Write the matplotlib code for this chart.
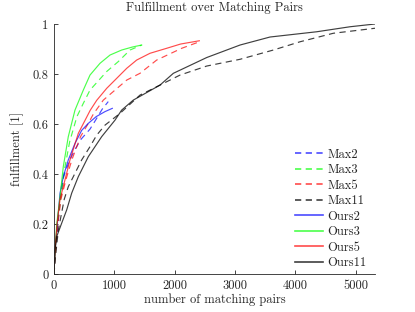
import matplotlib
matplotlib.use("Agg")
import matplotlib.pyplot as plt

plt.rcParams['font.family'] = ['cmr10', 'DejaVu Serif']
plt.rcParams['axes.formatter.use_mathtext'] = True
plt.rcParams['lines.scale_dashes'] = False

# ---- data ----
max2_x = [0, 12, 30, 60, 105, 160, 250, 350, 450, 597, 700, 800, 900]
max2_y = [0, 0.06, 0.12, 0.2, 0.3, 0.39, 0.45, 0.5, 0.54, 0.58, 0.62, 0.66, 0.69]

max3_x = [0, 12, 25, 55, 115, 175, 260, 380, 486, 597, 873, 1067, 1260, 1454]
max3_y = [0, 0.06, 0.1, 0.2, 0.31, 0.42, 0.53, 0.63, 0.683, 0.736, 0.81, 0.85, 0.896, 0.916]

max5_x = [0, 15, 35, 65, 115, 200, 300, 440, 569, 652, 818, 983, 1206, 1426, 1703, 2118, 2400]
max5_y = [0, 0.06, 0.12, 0.2, 0.3, 0.38, 0.46, 0.55, 0.603, 0.64, 0.696, 0.73, 0.776, 0.803, 0.856, 0.903, 0.928]

max11_x = [0, 20, 72, 170, 237, 376, 459, 597, 708, 846, 1095, 1426, 1758, 2090, 2532, 3085, 3637, 4080, 4632, 5323]
max11_y = [0, 0.06, 0.177, 0.3, 0.35, 0.417, 0.457, 0.51, 0.556, 0.596, 0.643, 0.716, 0.756, 0.796, 0.832, 0.859, 0.896, 0.929, 0.963, 0.983]

ours2_x = [0, 10, 25, 55, 100, 154, 237, 348, 459, 569, 700, 846, 967]
ours2_y = [0, 0.06, 0.12, 0.2, 0.324, 0.39, 0.457, 0.523, 0.575, 0.603, 0.63, 0.65, 0.663]

ours3_x = [0, 10, 20, 45, 100, 154, 237, 348, 486, 597, 763, 929, 1122, 1300, 1454]
ours3_y = [0, 0.06, 0.1, 0.2, 0.31, 0.43, 0.55, 0.656, 0.736, 0.796, 0.843, 0.876, 0.896, 0.908, 0.916]

ours5_x = [0, 10, 25, 50, 100, 182, 265, 403, 600, 708, 874, 1040, 1206, 1371, 1592, 1869, 2100, 2410]
ours5_y = [0, 0.06, 0.12, 0.2, 0.3, 0.377, 0.457, 0.563, 0.655, 0.695, 0.743, 0.783, 0.823, 0.856, 0.883, 0.903, 0.92, 0.933]

ours11_x = [0, 17, 44, 127, 210, 293, 403, 569, 791, 1012, 1122, 1315, 1758, 1979, 2532, 3085, 3582, 4357, 4909, 5323]
ours11_y = [0, 0.097, 0.15, 0.204, 0.257, 0.324, 0.39, 0.47, 0.55, 0.616, 0.656, 0.696, 0.756, 0.803, 0.866, 0.916, 0.948, 0.969, 0.989, 1.0]

x_ticks = [0, 1000, 2000, 3000, 4000, 5000]
y_ticks = [0, 0.2, 0.4, 0.6, 0.8, 1.0]
y_tick_labels = ['0', '0.2', '0.4', '0.6', '0.8', '1']

FS = 9
TXT = '#262626'

fig = plt.figure(figsize=(4.15, 3.12), dpi=100)
ax = fig.add_axes([54/415, 1 - 274.3/312, (375 - 54)/415, (274.3 - 24)/312])

dash = (4.5, 3.2)
lw = 0.85
ax.plot(max2_x, max2_y, color=(0, 0, 1), alpha=0.7, lw=lw, dashes=dash, label='Max2')
ax.plot(max3_x, max3_y, color=(0, 1, 0), alpha=0.7, lw=lw, dashes=dash, label='Max3')
ax.plot(max5_x, max5_y, color=(1, 0, 0), alpha=0.7, lw=lw, dashes=dash, label='Max5')
ax.plot(max11_x, max11_y, color=(0, 0, 0), alpha=0.75, lw=lw, dashes=dash, label='Max11')
ax.plot(ours2_x, ours2_y, color=(0, 0, 1), alpha=0.7, lw=lw, label='Ours2')
ax.plot(ours3_x, ours3_y, color=(0, 1, 0), alpha=0.7, lw=lw, label='Ours3')
ax.plot(ours5_x, ours5_y, color=(1, 0, 0), alpha=0.7, lw=lw, label='Ours5')
ax.plot(ours11_x, ours11_y, color=(0, 0, 0), alpha=0.75, lw=lw, label='Ours11')

ax.set_xlim(0, 5323)
ax.set_ylim(0, 1)
ax.set_xticks(x_ticks)
ax.set_xticklabels([str(v) for v in x_ticks])
ax.set_yticks(y_ticks)
ax.set_yticklabels(y_tick_labels)
ax.tick_params(direction='in', length=3, width=0.6, labelsize=FS, colors=TXT, pad=4)
for s in ['top', 'right']:
    ax.spines[s].set_visible(False)
for s in ['left', 'bottom']:
    ax.spines[s].set_linewidth(0.6)
    ax.spines[s].set_color(TXT)

ax.set_xlabel('number of matching pairs', fontsize=FS, color=TXT, labelpad=1)
ax.set_ylabel('fulfillment [1]', fontsize=FS, color=TXT, labelpad=6)
ax.set_title('Fulfillment over Matching Pairs', fontsize=FS, color=TXT, pad=9)

leg = ax.legend(loc='lower left', bbox_to_anchor=(0.751, 0.02), frameon=False, fontsize=FS,
                handlelength=2.25, handletextpad=0.32, labelspacing=0.27,
                borderaxespad=0.0, borderpad=0.0)
for t in leg.get_texts():
    t.set_color(TXT)
for h in leg.get_lines():
    h.set_linewidth(1.2)

fig.savefig('out.png', dpi=100)
